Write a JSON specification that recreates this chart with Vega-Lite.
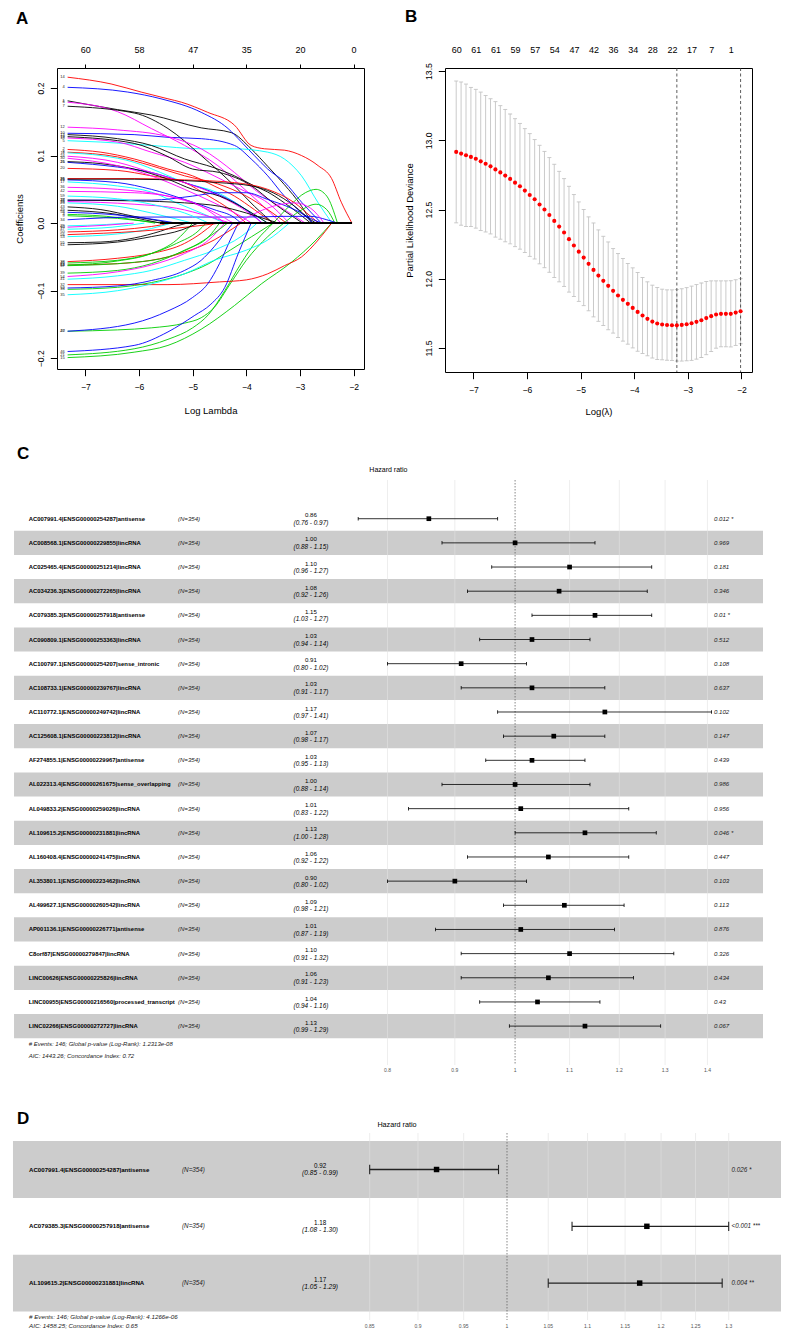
{
"$schema": "https://vega.github.io/schema/vega-lite/v6.json",
"background": "white",
"padding": {"left": 12, "top": 7, "right": 0, "bottom": 0},
"config": {
  "view": {"stroke": null},
  "font": "Liberation Sans",
  "axis": {"labelFont": "Liberation Sans", "titleFont": "Liberation Sans", "labelColor": "black", "titleColor": "black", "tickColor": "black", "titleFontWeight": "normal", "labelFlush": false, "grid": false, "domain": false},
  "title": {"font": "Liberation Sans", "fontSize": 17, "fontWeight": "bold", "anchor": "start", "frame": "bounds", "baseline": "alphabetic", "color": "black"},
  "text": {"font": "Liberation Sans"}
},
"datasets": {
"cv": [
{"x":-7.32,"d":12.916,"u":13.428,"l":12.404},{"x":-7.2285,"d":12.904,"u":13.421,"l":12.387},{"x":-7.137,"d":12.892,"u":13.406,"l":12.378},{"x":-7.0455,"d":12.88,"u":13.382,"l":12.378},{"x":-6.954,"d":12.867,"u":13.368,"l":12.366},{"x":-6.8625,"d":12.848,"u":13.348,"l":12.348},{"x":-6.771,"d":12.831,"u":13.324,"l":12.338},{"x":-6.6795,"d":12.812,"u":13.3,"l":12.324},{"x":-6.588,"d":12.79,"u":13.279,"l":12.301},{"x":-6.4965,"d":12.768,"u":13.25,"l":12.286},
{"x":-6.405,"d":12.745,"u":13.223,"l":12.267},{"x":-6.3135,"d":12.721,"u":13.19,"l":12.252},{"x":-6.222,"d":12.694,"u":13.156,"l":12.232},{"x":-6.1305,"d":12.668,"u":13.122,"l":12.214},{"x":-6.039,"d":12.637,"u":13.084,"l":12.19},{"x":-5.9475,"d":12.605,"u":13.048,"l":12.162},{"x":-5.856,"d":12.574,"u":13.005,"l":12.143},{"x":-5.7645,"d":12.536,"u":12.964,"l":12.108},{"x":-5.673,"d":12.5,"u":12.92,"l":12.08},{"x":-5.5815,"d":12.461,"u":12.875,"l":12.047},
{"x":-5.49,"d":12.418,"u":12.827,"l":12.009},{"x":-5.3985,"d":12.377,"u":12.776,"l":11.978},{"x":-5.307,"d":12.334,"u":12.723,"l":11.945},{"x":-5.2155,"d":12.286,"u":12.668,"l":11.904},{"x":-5.124,"d":12.24,"u":12.608,"l":11.872},{"x":-5.0325,"d":12.196,"u":12.555,"l":11.837},{"x":-4.941,"d":12.153,"u":12.5,"l":11.806},{"x":-4.8495,"d":12.108,"u":12.447,"l":11.769},{"x":-4.758,"d":12.064,"u":12.403,"l":11.725},{"x":-4.6665,"d":12.023,"u":12.353,"l":11.693},
{"x":-4.575,"d":11.985,"u":12.307,"l":11.663},{"x":-4.4835,"d":11.949,"u":12.266,"l":11.632},{"x":-4.392,"d":11.913,"u":12.218,"l":11.608},{"x":-4.3005,"d":11.879,"u":12.182,"l":11.576},{"x":-4.209,"d":11.848,"u":12.146,"l":11.55},{"x":-4.1175,"d":11.819,"u":12.11,"l":11.528},{"x":-4.026,"d":11.79,"u":12.079,"l":11.501},{"x":-3.9345,"d":11.761,"u":12.045,"l":11.477},{"x":-3.843,"d":11.735,"u":12.009,"l":11.461},{"x":-3.7515,"d":11.711,"u":11.978,"l":11.444},
{"x":-3.66,"d":11.691,"u":11.954,"l":11.428},{"x":-3.5685,"d":11.677,"u":11.937,"l":11.417},{"x":-3.477,"d":11.67,"u":11.925,"l":11.415},{"x":-3.3855,"d":11.666,"u":11.92,"l":11.412},{"x":-3.294,"d":11.665,"u":11.92,"l":11.41},{"x":-3.2025,"d":11.664,"u":11.922,"l":11.406},{"x":-3.111,"d":11.667,"u":11.928,"l":11.406},{"x":-3.0195,"d":11.672,"u":11.936,"l":11.408},{"x":-2.928,"d":11.679,"u":11.947,"l":11.411},{"x":-2.8365,"d":11.689,"u":11.958,"l":11.42},
{"x":-2.745,"d":11.701,"u":11.97,"l":11.432},{"x":-2.6535,"d":11.716,"u":11.98,"l":11.452},{"x":-2.562,"d":11.73,"u":11.985,"l":11.475},{"x":-2.4705,"d":11.742,"u":11.985,"l":11.499},{"x":-2.379,"d":11.747,"u":11.985,"l":11.509},{"x":-2.2875,"d":11.747,"u":11.985,"l":11.509},{"x":-2.196,"d":11.747,"u":11.986,"l":11.508},{"x":-2.1045,"d":11.756,"u":11.993,"l":11.519},{"x":-2.013,"d":11.766,"u":12.001,"l":11.531}
],
"fc": [
{"row":0,"name":"AC007991.4|ENSG00000254287|antisense","nlab":"(N=354)","hr":0.86,"lo":0.76,"hi":0.97,"ci":"(0.76 - 0.97)","p":"0.012 *"},
{"row":1,"name":"AC008568.1|ENSG00000229855|lincRNA","nlab":"(N=354)","hr":1.00,"lo":0.88,"hi":1.15,"ci":"(0.88 - 1.15)","p":"0.969"},
{"row":2,"name":"AC025465.4|ENSG00000251214|lincRNA","nlab":"(N=354)","hr":1.10,"lo":0.96,"hi":1.27,"ci":"(0.96 - 1.27)","p":"0.181"},
{"row":3,"name":"AC034236.3|ENSG00000272265|lincRNA","nlab":"(N=354)","hr":1.08,"lo":0.92,"hi":1.26,"ci":"(0.92 - 1.26)","p":"0.346"},
{"row":4,"name":"AC079385.3|ENSG00000257918|antisense","nlab":"(N=354)","hr":1.15,"lo":1.03,"hi":1.27,"ci":"(1.03 - 1.27)","p":"0.01 *"},
{"row":5,"name":"AC090809.1|ENSG00000253363|lincRNA","nlab":"(N=354)","hr":1.03,"lo":0.94,"hi":1.14,"ci":"(0.94 - 1.14)","p":"0.512"},
{"row":6,"name":"AC100797.1|ENSG00000254207|sense_intronic","nlab":"(N=354)","hr":0.91,"lo":0.80,"hi":1.02,"ci":"(0.80 - 1.02)","p":"0.108"},
{"row":7,"name":"AC108733.1|ENSG00000239767|lincRNA","nlab":"(N=354)","hr":1.03,"lo":0.91,"hi":1.17,"ci":"(0.91 - 1.17)","p":"0.637"},
{"row":8,"name":"AC110772.1|ENSG00000249742|lincRNA","nlab":"(N=354)","hr":1.17,"lo":0.97,"hi":1.41,"ci":"(0.97 - 1.41)","p":"0.102"},
{"row":9,"name":"AC125608.1|ENSG00000223812|lincRNA","nlab":"(N=354)","hr":1.07,"lo":0.98,"hi":1.17,"ci":"(0.98 - 1.17)","p":"0.147"},
{"row":10,"name":"AF274855.1|ENSG00000229967|antisense","nlab":"(N=354)","hr":1.03,"lo":0.95,"hi":1.13,"ci":"(0.95 - 1.13)","p":"0.439"},
{"row":11,"name":"AL022313.4|ENSG00000261675|sense_overlapping","nlab":"(N=354)","hr":1.00,"lo":0.88,"hi":1.14,"ci":"(0.88 - 1.14)","p":"0.986"},
{"row":12,"name":"AL049833.2|ENSG00000259026|lincRNA","nlab":"(N=354)","hr":1.01,"lo":0.83,"hi":1.22,"ci":"(0.83 - 1.22)","p":"0.956"},
{"row":13,"name":"AL109615.2|ENSG00000231881|lincRNA","nlab":"(N=354)","hr":1.13,"lo":1.00,"hi":1.28,"ci":"(1.00 - 1.28)","p":"0.046 *"},
{"row":14,"name":"AL160408.4|ENSG00000241475|lincRNA","nlab":"(N=354)","hr":1.06,"lo":0.92,"hi":1.22,"ci":"(0.92 - 1.22)","p":"0.447"},
{"row":15,"name":"AL353801.1|ENSG00000223462|lincRNA","nlab":"(N=354)","hr":0.90,"lo":0.80,"hi":1.02,"ci":"(0.80 - 1.02)","p":"0.103"},
{"row":16,"name":"AL499627.1|ENSG00000260542|lincRNA","nlab":"(N=354)","hr":1.09,"lo":0.98,"hi":1.21,"ci":"(0.98 - 1.21)","p":"0.113"},
{"row":17,"name":"AP001136.1|ENSG00000226771|antisense","nlab":"(N=354)","hr":1.01,"lo":0.87,"hi":1.19,"ci":"(0.87 - 1.19)","p":"0.876"},
{"row":18,"name":"C8orf87|ENSG00000279847|lincRNA","nlab":"(N=354)","hr":1.10,"lo":0.91,"hi":1.32,"ci":"(0.91 - 1.32)","p":"0.326"},
{"row":19,"name":"LINC00626|ENSG00000225826|lincRNA","nlab":"(N=354)","hr":1.06,"lo":0.91,"hi":1.23,"ci":"(0.91 - 1.23)","p":"0.434"},
{"row":20,"name":"LINC00955|ENSG00000216560|processed_transcript","nlab":"(N=354)","hr":1.04,"lo":0.94,"hi":1.16,"ci":"(0.94 - 1.16)","p":"0.43"},
{"row":21,"name":"LINC02266|ENSG00000272727|lincRNA","nlab":"(N=354)","hr":1.13,"lo":0.99,"hi":1.29,"ci":"(0.99 - 1.29)","p":"0.067"}
],
"fd": [
{"row":0,"name":"AC007991.4|ENSG00000254287|antisense","nlab":"(N=354)","hr":0.92,"lo":0.85,"hi":0.99,"ci":"(0.85 - 0.99)","p":"0.026 *"},
{"row":1,"name":"AC079385.3|ENSG00000257918|antisense","nlab":"(N=354)","hr":1.18,"lo":1.08,"hi":1.30,"ci":"(1.08 - 1.30)","p":"<0.001 ***"},
{"row":2,"name":"AL109615.2|ENSG00000231881|lincRNA","nlab":"(N=354)","hr":1.17,"lo":1.05,"hi":1.29,"ci":"(1.05 - 1.29)","p":"0.004 **"}
],
"paths": [
{"v":1,"x":-7.33,"c":0.181},{"v":1,"x":-6.4,"c":0.168},{"v":1,"x":-5.77,"c":0.16},{"v":1,"x":-4.84,"c":0.141},{"v":1,"x":-4.28,"c":0.134},{"v":1,"x":-3.91,"c":0.11},{"v":1,"x":-3.6,"c":0.084},{"v":1,"x":-3.29,"c":0.057},{"v":1,"x":-2.97,"c":0.025},{"v":1,"x":-2.78,"c":0},
{"v":2,"x":-7.33,"c":0.109},{"v":2,"x":-6.71,"c":0.105},{"v":2,"x":-6.09,"c":0.095},{"v":2,"x":-5.46,"c":0.08},{"v":2,"x":-5.0,"c":0.07},{"v":2,"x":-4.6,"c":0.055},{"v":2,"x":-4.22,"c":0.04},{"v":2,"x":-3.85,"c":0.02},{"v":2,"x":-3.5,"c":0},
{"v":3,"x":-7.33,"c":0.013},{"v":3,"x":-6.6,"c":0.01},{"v":3,"x":-6.0,"c":0.004},{"v":3,"x":-5.7,"c":0},
{"v":4,"x":-7.33,"c":0.201},{"v":4,"x":-6.21,"c":0.194},{"v":4,"x":-5.59,"c":0.184},{"v":4,"x":-4.84,"c":0.164},{"v":4,"x":-4.34,"c":0.14},{"v":4,"x":-4.09,"c":0.12},{"v":4,"x":-3.85,"c":0.1},{"v":4,"x":-3.6,"c":0.08},{"v":4,"x":-3.29,"c":0.061},{"v":4,"x":-2.97,"c":0.031},{"v":4,"x":-2.6,"c":0},
{"v":5,"x":-7.33,"c":0.122},{"v":5,"x":-6.71,"c":0.12},{"v":5,"x":-5.77,"c":0.115},{"v":5,"x":-4.84,"c":0.11},{"v":5,"x":-4.22,"c":0.11},{"v":5,"x":-3.6,"c":0.105},{"v":5,"x":-3.29,"c":0.095},{"v":5,"x":-2.97,"c":0.07},{"v":5,"x":-2.66,"c":0.03},{"v":5,"x":-2.4,"c":0},
{"v":6,"x":-7.33,"c":0.179},{"v":6,"x":-6.4,"c":0.165},{"v":6,"x":-5.77,"c":0.14},{"v":6,"x":-5.15,"c":0.115},{"v":6,"x":-4.53,"c":0.085},{"v":6,"x":-4.1,"c":0.055},{"v":6,"x":-3.75,"c":0.03},{"v":6,"x":-3.35,"c":0},
{"v":7,"x":-7.33,"c":0.173},{"v":7,"x":-6.09,"c":0.163},{"v":7,"x":-5.46,"c":0.14},{"v":7,"x":-4.84,"c":0.1},{"v":7,"x":-4.22,"c":0.055},{"v":7,"x":-3.85,"c":0.025},{"v":7,"x":-3.5,"c":0},
{"v":8,"x":-7.33,"c":0.105},{"v":8,"x":-6.4,"c":0.098},{"v":8,"x":-5.77,"c":0.085},{"v":8,"x":-5.15,"c":0.07},{"v":8,"x":-4.53,"c":0.058},{"v":8,"x":-4.0,"c":0.04},{"v":8,"x":-3.6,"c":0.02},{"v":8,"x":-3.25,"c":0},
{"v":9,"x":-7.33,"c":0.011},{"v":9,"x":-6.4,"c":0.007},{"v":9,"x":-5.8,"c":0.002},{"v":9,"x":-5.5,"c":0},
{"v":10,"x":-7.33,"c":0.133},{"v":10,"x":-6.09,"c":0.131},{"v":10,"x":-5.46,"c":0.127},{"v":10,"x":-4.84,"c":0.125},{"v":10,"x":-4.22,"c":0.115},{"v":10,"x":-3.91,"c":0.095},{"v":10,"x":-3.6,"c":0.07},{"v":10,"x":-3.29,"c":0.04},{"v":10,"x":-2.97,"c":0.015},{"v":10,"x":-2.75,"c":0},
{"v":11,"x":-7.33,"c":0.104},{"v":11,"x":-6.71,"c":0.1},{"v":11,"x":-6.09,"c":0.09},{"v":11,"x":-5.6,"c":0.075},{"v":11,"x":-5.15,"c":0.06},{"v":11,"x":-4.53,"c":0.045},{"v":11,"x":-4.0,"c":0.02},{"v":11,"x":-3.6,"c":0},
{"v":12,"x":-7.33,"c":0.142},{"v":12,"x":-6.4,"c":0.138},{"v":12,"x":-5.46,"c":0.128},{"v":12,"x":-4.84,"c":0.11},{"v":12,"x":-4.22,"c":0.075},{"v":12,"x":-3.85,"c":0.05},{"v":12,"x":-3.29,"c":0.02},{"v":12,"x":-2.9,"c":0},
{"v":13,"x":-7.33,"c":0.131},{"v":13,"x":-6.4,"c":0.125},{"v":13,"x":-5.77,"c":0.115},{"v":13,"x":-5.15,"c":0.095},{"v":13,"x":-4.6,"c":0.082},{"v":13,"x":-4.22,"c":0.07},{"v":13,"x":-3.85,"c":0.055},{"v":13,"x":-3.6,"c":0.046},{"v":13,"x":-3.29,"c":0.03},{"v":13,"x":-2.97,"c":0.011},{"v":13,"x":-2.8,"c":0},
{"v":14,"x":-7.33,"c":0.216},{"v":14,"x":-6.52,"c":0.206},{"v":14,"x":-5.96,"c":0.194},{"v":14,"x":-5.46,"c":0.184},{"v":14,"x":-5.21,"c":0.179},{"v":14,"x":-4.72,"c":0.164},{"v":14,"x":-4.22,"c":0.145},{"v":14,"x":-3.91,"c":0.115},{"v":14,"x":-3.66,"c":0.11},{"v":14,"x":-3.29,"c":0.108},{"v":14,"x":-2.97,"c":0.1},{"v":14,"x":-2.66,"c":0.085},{"v":14,"x":-2.41,"c":0.066},{"v":14,"x":-2.23,"c":0.031},{"v":14,"x":-2.03,"c":0},
{"v":15,"x":-7.33,"c":-0.199},{"v":15,"x":-6.09,"c":-0.191},{"v":15,"x":-5.46,"c":-0.181},{"v":15,"x":-4.84,"c":-0.157},{"v":15,"x":-4.22,"c":-0.122},{"v":15,"x":-3.72,"c":-0.09},{"v":15,"x":-3.16,"c":-0.058},{"v":15,"x":-2.7,"c":-0.025},{"v":15,"x":-2.41,"c":0},
{"v":16,"x":-7.33,"c":0.09},{"v":16,"x":-6.4,"c":0.083},{"v":16,"x":-5.77,"c":0.075},{"v":16,"x":-5.15,"c":0.06},{"v":16,"x":-4.6,"c":0.045},{"v":16,"x":-4.1,"c":0.025},{"v":16,"x":-3.7,"c":0},
{"v":17,"x":-7.33,"c":0.061},{"v":17,"x":-6.4,"c":0.055},{"v":17,"x":-5.77,"c":0.046},{"v":17,"x":-5.3,"c":0.03},{"v":17,"x":-4.84,"c":0.015},{"v":17,"x":-4.4,"c":0},
{"v":18,"x":-7.33,"c":0.126},{"v":18,"x":-6.4,"c":0.12},{"v":18,"x":-5.77,"c":0.105},{"v":18,"x":-5.15,"c":0.09},{"v":18,"x":-4.6,"c":0.07},{"v":18,"x":-4.1,"c":0.05},{"v":18,"x":-3.6,"c":0.03},{"v":18,"x":-3.2,"c":0},
{"v":19,"x":-7.33,"c":0.128},{"v":19,"x":-6.09,"c":0.118},{"v":19,"x":-5.5,"c":0.1},{"v":19,"x":-5.0,"c":0.08},{"v":19,"x":-4.5,"c":0.075},{"v":19,"x":-3.9,"c":0.055},{"v":19,"x":-3.5,"c":0.03},{"v":19,"x":-3.1,"c":0.008},{"v":19,"x":-2.95,"c":0},
{"v":20,"x":-7.33,"c":0.081},{"v":20,"x":-6.4,"c":0.078},{"v":20,"x":-5.77,"c":0.07},{"v":20,"x":-5.15,"c":0.06},{"v":20,"x":-4.7,"c":0.04},{"v":20,"x":-4.3,"c":0.02},{"v":20,"x":-4.0,"c":0},
{"v":21,"x":-7.33,"c":-0.195},{"v":21,"x":-6.09,"c":-0.186},{"v":21,"x":-5.46,"c":-0.172},{"v":21,"x":-5.0,"c":-0.155},{"v":21,"x":-4.7,"c":-0.135},{"v":21,"x":-4.4,"c":-0.1},{"v":21,"x":-4.1,"c":-0.06},{"v":21,"x":-3.8,"c":-0.025},{"v":21,"x":-3.5,"c":0},{"v":21,"x":-3.2,"c":0.025},{"v":21,"x":-2.9,"c":0.045},{"v":21,"x":-2.7,"c":0.05},{"v":21,"x":-2.5,"c":0.04},{"v":21,"x":-2.3,"c":0},
{"v":22,"x":-7.33,"c":0.064},{"v":22,"x":-6.4,"c":0.06},{"v":22,"x":-5.77,"c":0.05},{"v":22,"x":-5.15,"c":0.035},{"v":22,"x":-4.6,"c":0.02},{"v":22,"x":-4.22,"c":0.008},{"v":22,"x":-4.1,"c":0},
{"v":23,"x":-7.33,"c":0.03},{"v":23,"x":-6.4,"c":0.025},{"v":23,"x":-5.77,"c":0.015},{"v":23,"x":-5.2,"c":0.004},{"v":23,"x":-5.0,"c":0},
{"v":24,"x":-7.33,"c":0.099},{"v":24,"x":-6.4,"c":0.09},{"v":24,"x":-5.77,"c":0.075},{"v":24,"x":-5.15,"c":0.06},{"v":24,"x":-4.5,"c":0.04},{"v":24,"x":-3.95,"c":0.015},{"v":24,"x":-3.7,"c":0},
{"v":25,"x":-7.33,"c":0.091},{"v":25,"x":-6.71,"c":0.088},{"v":25,"x":-6.09,"c":0.08},{"v":25,"x":-5.46,"c":0.065},{"v":25,"x":-5.0,"c":0.05},{"v":25,"x":-4.5,"c":0.04},{"v":25,"x":-4.0,"c":0.02},{"v":25,"x":-3.6,"c":0},
{"v":26,"x":-7.33,"c":0.066},{"v":26,"x":-6.09,"c":0.066},{"v":26,"x":-5.15,"c":0.064},{"v":26,"x":-4.22,"c":0.06},{"v":26,"x":-3.6,"c":0.05},{"v":26,"x":-3.1,"c":0.03},{"v":26,"x":-2.8,"c":0.01},{"v":26,"x":-2.65,"c":0},
{"v":27,"x":-7.33,"c":-0.16},{"v":27,"x":-6.4,"c":-0.158},{"v":27,"x":-5.77,"c":-0.155},{"v":27,"x":-5.15,"c":-0.148},{"v":27,"x":-4.84,"c":-0.14},{"v":27,"x":-4.6,"c":-0.125},{"v":27,"x":-4.3,"c":-0.09},{"v":27,"x":-4.0,"c":-0.055},{"v":27,"x":-3.6,"c":-0.02},{"v":27,"x":-3.3,"c":0},{"v":27,"x":-3.0,"c":0.018},{"v":27,"x":-2.7,"c":0.028},{"v":27,"x":-2.5,"c":0.02},{"v":27,"x":-2.35,"c":0},
{"v":28,"x":-7.33,"c":0.034},{"v":28,"x":-5.77,"c":0.034},{"v":28,"x":-5.0,"c":0.04},{"v":28,"x":-4.5,"c":0.045},{"v":28,"x":-4.0,"c":0.045},{"v":28,"x":-3.6,"c":0.035},{"v":28,"x":-3.1,"c":0.02},{"v":28,"x":-2.75,"c":0.005},{"v":28,"x":-2.6,"c":0},
{"v":29,"x":-7.33,"c":-0.004},{"v":29,"x":-6.6,"c":-0.002},{"v":29,"x":-6.2,"c":0},
{"v":30,"x":-7.33,"c":0.096},{"v":30,"x":-6.4,"c":0.085},{"v":30,"x":-5.77,"c":0.07},{"v":30,"x":-5.15,"c":0.05},{"v":30,"x":-4.6,"c":0.03},{"v":30,"x":-4.1,"c":0.01},{"v":30,"x":-3.9,"c":0},
{"v":31,"x":-7.33,"c":0.065},{"v":31,"x":-6.09,"c":0.065},{"v":31,"x":-5.15,"c":0.063},{"v":31,"x":-4.53,"c":0.06},{"v":31,"x":-3.9,"c":0.055},{"v":31,"x":-3.5,"c":0.045},{"v":31,"x":-3.1,"c":0.025},{"v":31,"x":-2.8,"c":0.005},{"v":31,"x":-2.7,"c":0},
{"v":32,"x":-7.33,"c":-0.091},{"v":32,"x":-5.46,"c":-0.091},{"v":32,"x":-4.5,"c":-0.087},{"v":32,"x":-4.0,"c":-0.084},{"v":32,"x":-3.6,"c":-0.075},{"v":32,"x":-3.29,"c":-0.063},{"v":32,"x":-2.97,"c":-0.05},{"v":32,"x":-2.66,"c":-0.025},{"v":32,"x":-2.41,"c":0},
{"v":33,"x":-7.33,"c":-0.098},{"v":33,"x":-6.4,"c":-0.095},{"v":33,"x":-5.77,"c":-0.088},{"v":33,"x":-5.15,"c":-0.075},{"v":33,"x":-4.7,"c":-0.06},{"v":33,"x":-4.3,"c":-0.04},{"v":33,"x":-3.9,"c":-0.02},{"v":33,"x":-3.5,"c":0},
{"v":34,"x":-7.33,"c":0.005},{"v":34,"x":-6.0,"c":0.009},{"v":34,"x":-5.0,"c":0.009},{"v":34,"x":-4.0,"c":0.009},{"v":34,"x":-3.3,"c":0.01},{"v":34,"x":-2.8,"c":0.01},{"v":34,"x":-2.5,"c":0.005},{"v":34,"x":-2.3,"c":0},
{"v":35,"x":-7.33,"c":-0.106},{"v":35,"x":-6.4,"c":-0.1},{"v":35,"x":-5.77,"c":-0.09},{"v":35,"x":-5.15,"c":-0.075},{"v":35,"x":-4.6,"c":-0.055},{"v":35,"x":-4.0,"c":-0.04},{"v":35,"x":-3.6,"c":-0.025},{"v":35,"x":-3.2,"c":0},
{"v":36,"x":-7.33,"c":0.053},{"v":36,"x":-6.4,"c":0.05},{"v":36,"x":-5.46,"c":0.04},{"v":36,"x":-4.84,"c":0.025},{"v":36,"x":-4.45,"c":0.01},{"v":36,"x":-4.2,"c":0},{"v":36,"x":-3.9,"c":0.012},{"v":36,"x":-3.5,"c":0.025},{"v":36,"x":-3.1,"c":0.03},{"v":36,"x":-2.8,"c":0.022},{"v":36,"x":-2.55,"c":0},
{"v":37,"x":-7.33,"c":0.034},{"v":37,"x":-6.09,"c":0.033},{"v":37,"x":-5.15,"c":0.03},{"v":37,"x":-4.5,"c":0.025},{"v":37,"x":-4.0,"c":0.015},{"v":37,"x":-3.6,"c":0.005},{"v":37,"x":-3.4,"c":0},
{"v":38,"x":-7.33,"c":-0.057},{"v":38,"x":-6.4,"c":-0.052},{"v":38,"x":-5.77,"c":-0.045},{"v":38,"x":-5.15,"c":-0.03},{"v":38,"x":-4.84,"c":-0.015},{"v":38,"x":-4.6,"c":0},
{"v":39,"x":-7.33,"c":-0.074},{"v":39,"x":-6.4,"c":-0.07},{"v":39,"x":-5.77,"c":-0.06},{"v":39,"x":-5.15,"c":-0.04},{"v":39,"x":-4.7,"c":-0.02},{"v":39,"x":-4.5,"c":0},
{"v":40,"x":-7.33,"c":-0.16},{"v":40,"x":-6.09,"c":-0.148},{"v":40,"x":-5.46,"c":-0.13},{"v":40,"x":-5.0,"c":-0.11},{"v":40,"x":-4.72,"c":-0.09},{"v":40,"x":-4.5,"c":-0.06},{"v":40,"x":-4.3,"c":-0.025},{"v":40,"x":-4.15,"c":0},
{"v":41,"x":-7.33,"c":-0.083},{"v":41,"x":-6.4,"c":-0.078},{"v":41,"x":-5.77,"c":-0.07},{"v":41,"x":-5.15,"c":-0.055},{"v":41,"x":-4.6,"c":-0.04},{"v":41,"x":-4.1,"c":-0.02},{"v":41,"x":-3.8,"c":0},
{"v":42,"x":-7.33,"c":0.047},{"v":42,"x":-6.09,"c":0.045},{"v":42,"x":-5.46,"c":0.04},{"v":42,"x":-4.84,"c":0.025},{"v":42,"x":-4.4,"c":0},
{"v":43,"x":-7.33,"c":0.024},{"v":43,"x":-6.71,"c":0.02},{"v":43,"x":-6.09,"c":0.01},{"v":43,"x":-5.6,"c":0.003},{"v":43,"x":-5.4,"c":0},
{"v":44,"x":-7.33,"c":-0.062},{"v":44,"x":-6.4,"c":-0.06},{"v":44,"x":-5.77,"c":-0.055},{"v":44,"x":-5.15,"c":-0.043},{"v":44,"x":-4.6,"c":-0.025},{"v":44,"x":-4.25,"c":-0.008},{"v":44,"x":-4.1,"c":0},
{"v":45,"x":-7.33,"c":-0.059},{"v":45,"x":-6.4,"c":-0.055},{"v":45,"x":-5.77,"c":-0.045},{"v":45,"x":-5.3,"c":-0.03},{"v":45,"x":-4.9,"c":-0.012},{"v":45,"x":-4.75,"c":0},
{"v":46,"x":-7.33,"c":-0.19},{"v":46,"x":-6.09,"c":-0.181},{"v":46,"x":-5.46,"c":-0.161},{"v":46,"x":-4.97,"c":-0.137},{"v":46,"x":-4.66,"c":-0.12},{"v":46,"x":-4.4,"c":-0.095},{"v":46,"x":-4.15,"c":-0.045},{"v":46,"x":-3.91,"c":0},
{"v":47,"x":-7.33,"c":-0.009},{"v":47,"x":-6.5,"c":-0.006},{"v":47,"x":-5.9,"c":0},
{"v":48,"x":-7.33,"c":0.032},{"v":48,"x":-6.09,"c":0.028},{"v":48,"x":-5.3,"c":0.022},{"v":48,"x":-4.7,"c":0.01},{"v":48,"x":-4.3,"c":0},
{"v":49,"x":-7.33,"c":0.019},{"v":49,"x":-6.5,"c":0.014},{"v":49,"x":-5.9,"c":0.005},{"v":49,"x":-5.6,"c":0},
{"v":50,"x":-7.33,"c":-0.013},{"v":50,"x":-6.4,"c":-0.01},{"v":50,"x":-5.77,"c":-0.005},{"v":50,"x":-5.4,"c":0},
{"v":51,"x":-7.33,"c":-0.062},{"v":51,"x":-6.4,"c":-0.056},{"v":51,"x":-5.77,"c":-0.045},{"v":51,"x":-5.3,"c":-0.025},{"v":51,"x":-5.0,"c":0},
{"v":52,"x":-7.33,"c":-0.096},{"v":52,"x":-6.4,"c":-0.093},{"v":52,"x":-5.77,"c":-0.085},{"v":52,"x":-5.15,"c":-0.07},{"v":52,"x":-4.84,"c":-0.055},{"v":52,"x":-4.6,"c":-0.035},{"v":52,"x":-4.4,"c":-0.015},{"v":52,"x":-4.25,"c":0},
{"v":53,"x":-7.33,"c":-0.02},{"v":53,"x":-6.4,"c":-0.016},{"v":53,"x":-5.77,"c":-0.008},{"v":53,"x":-5.4,"c":0},
{"v":54,"x":-7.33,"c":-0.079},{"v":54,"x":-6.4,"c":-0.072},{"v":54,"x":-5.77,"c":-0.062},{"v":54,"x":-5.15,"c":-0.045},{"v":54,"x":-4.7,"c":-0.025},{"v":54,"x":-4.4,"c":0},
{"v":55,"x":-7.33,"c":-0.029},{"v":55,"x":-6.71,"c":-0.028},{"v":55,"x":-6.09,"c":-0.022},{"v":55,"x":-5.6,"c":-0.012},{"v":55,"x":-5.3,"c":-0.004},{"v":55,"x":-5.1,"c":0},
{"v":56,"x":-7.33,"c":-0.017},{"v":56,"x":-6.0,"c":-0.012},{"v":56,"x":-5.0,"c":-0.005},{"v":56,"x":-4.5,"c":0},
{"v":57,"x":-7.33,"c":-0.063},{"v":57,"x":-6.09,"c":-0.058},{"v":57,"x":-5.46,"c":-0.05},{"v":57,"x":-5.0,"c":-0.035},{"v":57,"x":-4.6,"c":-0.015},{"v":57,"x":-4.35,"c":0},
{"v":58,"x":-7.33,"c":0.016},{"v":58,"x":-6.4,"c":0.012},{"v":58,"x":-5.77,"c":0.006},{"v":58,"x":-5.3,"c":0},
{"v":59,"x":-7.33,"c":0.04},{"v":59,"x":-6.4,"c":0.036},{"v":59,"x":-5.77,"c":0.028},{"v":59,"x":-5.15,"c":0.015},{"v":59,"x":-4.7,"c":0},
{"v":60,"x":-7.33,"c":-0.006},{"v":60,"x":-6.6,"c":-0.003},{"v":60,"x":-6.1,"c":0},
{"v":61,"x":-7.33,"c":-0.032},{"v":61,"x":-6.4,"c":-0.028},{"v":61,"x":-5.77,"c":-0.02},{"v":61,"x":-5.2,"c":-0.01},{"v":61,"x":-4.9,"c":0}
]
},
"spacing": 27,
"vconcat": [
{
 "spacing": 38,
 "hconcat": [
  {
   "title": {"text": "A", "offset": 17, "dx": 2},
   "width": 307, "height": 301,
   "view": {"stroke": "black", "strokeWidth": 1},
   "data": {"name": "paths"},
   "resolve": {"axis": {"x": "independent"}},
   "layer": [
    {"mark": {"type": "line", "interpolate": "monotone", "strokeWidth": 0.9},
     "encoding": {
      "x": {"field": "x", "type": "quantitative", "scale": {"domain": [-7.528, -1.806], "nice": false, "zero": false},
            "axis": {"orient": "bottom", "values": [-7,-6,-5,-4,-3,-2], "format": "d", "title": "Log Lambda", "tickSize": 6.7, "labelPadding": 7, "labelFontSize": 8.6, "titleFontSize": 9.5, "titlePadding": 14}},
      "y": {"field": "c", "type": "quantitative", "scale": {"domain": [-0.2159, 0.2296], "nice": false, "zero": false},
            "axis": {"values": [-0.2,-0.1,0,0.1,0.2], "format": ".1f", "title": "Coefficients", "tickSize": 6.7, "labelAngle": -90, "labelAlign": "center", "labelBaseline": "bottom", "labelPadding": 4.4, "labelFontSize": 8.6, "titleFontSize": 9.5, "titlePadding": 12.8}},
      "color": {"field": "v", "type": "nominal", "scale": {"domain": [1,2,3,4,5,6,7,8,9,10,11,12,13,14,15,16,17,18,19,20,21,22,23,24,25,26,27,28,29,30,31,32,33,34,35,36,37,38,39,40,41,42,43,44,45,46,47,48,49,50,51,52,53,54,55,56,57,58,59,60,61], "range": ["#000000","#FF0000","#00CD00","#0000FF","#00FFFF","#FF00FF"]}, "legend": null}
     }},
    {"transform": [{"filter": "datum.x == -7.33"}],
     "mark": {"type": "text", "align": "right", "baseline": "middle", "dx": -3, "fontSize": 4, "font": "Liberation Sans", "color": "#222222"},
     "encoding": {
      "x": {"field": "x", "type": "quantitative", "axis": {"orient": "top", "values": [-7,-6,-5,-4,-3,-2], "labelExpr": "['60','58','47','35','20','0'][datum.value + 7]", "title": null, "tickSize": 4, "labelPadding": 10, "labelFontSize": 9}},
      "y": {"field": "c", "type": "quantitative"},
      "text": {"field": "v", "type": "nominal"}
     }},
    {"mark": {"type": "rule", "color": "black", "strokeWidth": 0.9},
     "encoding": {"x": {"datum": -5.6, "type": "quantitative", "axis": null}, "x2": {"datum": -2.03}, "y": {"datum": 0, "type": "quantitative"}}}
   ]
  },
  {
   "title": {"text": "B", "offset": 19.2, "dx": 1},
   "width": 307, "height": 304,
   "view": {"stroke": "black", "strokeWidth": 1},
   "data": {"name": "cv"},
   "resolve": {"axis": {"x": "independent"}},
   "layer": [
    {"mark": {"type": "rule", "color": "#c4c4c4", "strokeWidth": 0.9},
     "encoding": {
      "x": {"field": "x", "type": "quantitative", "scale": {"domain": [-7.529, -1.8], "nice": false, "zero": false},
            "axis": {"orient": "bottom", "values": [-7,-6,-5,-4,-3,-2], "format": "d", "title": "Log(λ)", "tickSize": 6.7, "labelPadding": 7, "labelFontSize": 8.6, "titleFontSize": 9.5, "titlePadding": 12.5}},
      "y": {"field": "l", "type": "quantitative", "scale": {"domain": [11.327, 13.522], "nice": false, "zero": false},
            "axis": {"values": [11.5, 12, 12.5, 13, 13.5], "format": ".1f", "title": "Partial Likelihood Deviance", "tickSize": 6.7, "labelAngle": -90, "labelAlign": "center", "labelBaseline": "bottom", "labelPadding": 4.4, "labelFontSize": 8.6, "titleFontSize": 9.5, "titlePadding": 10.9}},
      "y2": {"field": "u"}
     }},
    {"mark": {"type": "tick", "orient": "horizontal", "color": "#c4c4c4", "size": 4, "thickness": 0.9, "opacity": 1},
     "encoding": {
      "x": {"field": "x", "type": "quantitative", "axis": {"orient": "top", "values": [-7.32,-6.954,-6.588,-6.222,-5.856,-5.49,-5.124,-4.758,-4.392,-4.026,-3.66,-3.294,-2.928,-2.562,-2.196], "labelExpr": "['60','61','61','59','57','54','47','42','36','34','28','22','17','7','1'][indexof([-7.32,-6.954,-6.588,-6.222,-5.856,-5.49,-5.124,-4.758,-4.392,-4.026,-3.66,-3.294,-2.928,-2.562,-2.196], datum.value)]", "title": null, "ticks": false, "tickSize": 0, "labelPadding": 13.5, "labelFontSize": 9}},
      "y": {"field": "u", "type": "quantitative"}
     }},
    {"mark": {"type": "tick", "orient": "horizontal", "color": "#c4c4c4", "size": 4, "thickness": 0.9, "opacity": 1},
     "encoding": {
      "x": {"field": "x", "type": "quantitative", "axis": null},
      "y": {"field": "l", "type": "quantitative"}
     }},
    {"data": {"values": [{"lam": -3.2025}, {"lam": -2.013}]},
     "mark": {"type": "rule", "color": "#333333", "strokeWidth": 0.8, "strokeDash": [3, 2.5]},
     "encoding": {"x": {"field": "lam", "type": "quantitative", "axis": null}}},
    {"mark": {"type": "circle", "color": "#FF0000", "size": 17, "opacity": 1},
     "encoding": {
      "x": {"field": "x", "type": "quantitative", "axis": null},
      "y": {"field": "d", "type": "quantitative"}
     }}
   ]
  }
 ]
},
{
 "spacing": 35,
 "vconcat": [
  {
   "title": {"text": "C", "offset": 3, "dx": 3},
   "width": 706, "height": 585,
   "data": {"name": "fc"},
   "layer": [
    {"transform": [{"filter": "datum.row % 2 == 1"}],
     "mark": {"type": "bar", "orient": "horizontal", "size": 24.2, "color": "#cccccc", "opacity": 1},
     "encoding": {"x": {"datum": 0.4163, "type": "quantitative", "scale": {"type": "log", "domain": [0.4488, 1.5428], "nice": false, "zero": false, "padding": 0}, "axis": null},
                  "x2": {"datum": 1.5428},
                  "y": {"field": "row", "type": "quantitative", "scale": {"domain": [-1.602, 22.61], "reverse": true, "nice": false, "zero": false, "padding": 0}, "axis": null}}},
    {"data": {"values": [{"g": 0.8}, {"g": 0.9}, {"g": 1.1}, {"g": 1.2}, {"g": 1.3}, {"g": 1.4}]},
     "mark": {"type": "rule", "color": "#e3e3e3", "strokeWidth": 0.6},
     "encoding": {"x": {"field": "g", "type": "quantitative", "axis": null}}},
    {"data": {"values": [{"g": 1}]},
     "mark": {"type": "rule", "color": "#555555", "strokeWidth": 0.7, "strokeDash": [1.5, 1.5]},
     "encoding": {"x": {"field": "g", "type": "quantitative", "axis": null}}},
    {"data": {"values": [{"g": 0.8}, {"g": 0.9}, {"g": 1}, {"g": 1.1}, {"g": 1.2}, {"g": 1.3}, {"g": 1.4}]},
     "mark": {"type": "text", "align": "center", "baseline": "middle", "fontSize": 5, "color": "#555555"},
     "encoding": {"x": {"field": "g", "type": "quantitative", "axis": null}, "y": {"datum": 22.82, "type": "quantitative", "axis": null}, "text": {"field": "g", "type": "quantitative", "format": "~g"}}},
    {"mark": {"type": "rule", "color": "black", "strokeWidth": 0.8},
     "encoding": {"x": {"field": "lo", "type": "quantitative", "axis": null}, "x2": {"field": "hi"}, "y": {"field": "row", "type": "quantitative", "axis": null}}},
    {"mark": {"type": "tick", "orient": "vertical", "size": 3.5, "thickness": 0.8, "color": "black", "opacity": 1},
     "encoding": {"x": {"field": "lo", "type": "quantitative", "axis": null}, "y": {"field": "row", "type": "quantitative", "axis": null}}},
    {"mark": {"type": "tick", "orient": "vertical", "size": 3.5, "thickness": 0.8, "color": "black", "opacity": 1},
     "encoding": {"x": {"field": "hi", "type": "quantitative", "axis": null}, "y": {"field": "row", "type": "quantitative", "axis": null}}},
    {"mark": {"type": "point", "shape": "square", "filled": true, "size": 22, "color": "black", "opacity": 1},
     "encoding": {"x": {"field": "hr", "type": "quantitative", "axis": null}, "y": {"field": "row", "type": "quantitative", "axis": null}}},
    {"data": {"values": [{"t": "Hazard ratio"}]},
     "mark": {"type": "text", "align": "center", "baseline": "middle", "fontSize": 7, "color": "black"},
     "encoding": {"x": {"datum": 0.8013, "type": "quantitative", "axis": null}, "y": {"datum": -2.02, "type": "quantitative", "axis": null}, "text": {"field": "t"}}},
    {"mark": {"type": "text", "align": "left", "baseline": "middle", "fontSize": 5.9, "fontWeight": "bold", "color": "black"},
     "encoding": {"x": {"datum": 0.4271, "type": "quantitative", "axis": null}, "y": {"field": "row", "type": "quantitative", "axis": null}, "text": {"field": "name"}}},
    {"mark": {"type": "text", "align": "left", "baseline": "middle", "fontSize": 6.1, "fontStyle": "italic", "color": "#222222"},
     "encoding": {"x": {"datum": 0.5545, "type": "quantitative", "axis": null}, "y": {"field": "row", "type": "quantitative", "axis": null}, "text": {"field": "nlab"}}},
    {"mark": {"type": "text", "align": "center", "baseline": "middle", "fontSize": 6.1, "dy": -3.4, "color": "black"},
     "encoding": {"x": {"datum": 0.6997, "type": "quantitative", "axis": null}, "y": {"field": "row", "type": "quantitative", "axis": null}, "text": {"field": "hr", "format": ".2f"}}},
    {"mark": {"type": "text", "align": "center", "baseline": "middle", "fontSize": 6.4, "fontStyle": "italic", "dy": 4.1, "color": "black"},
     "encoding": {"x": {"datum": 0.6997, "type": "quantitative", "axis": null}, "y": {"field": "row", "type": "quantitative", "axis": null}, "text": {"field": "ci"}}},
    {"mark": {"type": "text", "align": "left", "baseline": "middle", "fontSize": 6.1, "fontStyle": "italic", "color": "#222222"},
     "encoding": {"x": {"datum": 1.4161, "type": "quantitative", "axis": null}, "y": {"field": "row", "type": "quantitative", "axis": null}, "text": {"field": "p"}}},
    {"data": {"values": [{"t": "# Events: 146; Global p-value (Log-Rank): 1.2313e-08"}]},
     "mark": {"type": "text", "align": "left", "baseline": "middle", "fontSize": 6, "fontStyle": "italic", "color": "#222222"},
     "encoding": {"x": {"datum": 0.4271, "type": "quantitative", "axis": null}, "y": {"datum": 21.76, "type": "quantitative", "axis": null}, "text": {"field": "t"}}},
    {"data": {"values": [{"t": "AIC: 1443.26; Concordance Index: 0.72"}]},
     "mark": {"type": "text", "align": "left", "baseline": "middle", "fontSize": 6, "fontStyle": "italic", "color": "#222222"},
     "encoding": {"x": {"datum": 0.4271, "type": "quantitative", "axis": null}, "y": {"datum": 22.24, "type": "quantitative", "axis": null}, "text": {"field": "t"}}}
   ]
  },
  {
   "title": {"text": "D", "offset": -6.7, "dx": 4},
   "width": 724, "height": 187,
   "data": {"name": "fd"},
   "layer": [
    {"transform": [{"filter": "datum.row % 2 == 0"}],
     "mark": {"type": "bar", "orient": "horizontal", "size": 56.8, "color": "#cccccc", "opacity": 1},
     "encoding": {"x": {"datum": 0.5573, "type": "quantitative", "scale": {"type": "log", "domain": [0.5871, 1.383], "nice": false, "zero": false, "padding": 0}, "axis": null},
                  "x2": {"datum": 1.383},
                  "y": {"field": "row", "type": "quantitative", "scale": {"domain": [-0.6426, 2.6496], "reverse": true, "nice": false, "zero": false, "padding": 0}, "axis": null}}},
    {"data": {"values": [{"g": 0.85}, {"g": 0.9}, {"g": 0.95}, {"g": 1.05}, {"g": 1.1}, {"g": 1.15}, {"g": 1.2}, {"g": 1.25}, {"g": 1.3}]},
     "mark": {"type": "rule", "color": "#e0e0e0", "strokeWidth": 0.6},
     "encoding": {"x": {"field": "g", "type": "quantitative", "axis": null}}},
    {"data": {"values": [{"g": 1}]},
     "mark": {"type": "rule", "color": "#555555", "strokeWidth": 0.7, "strokeDash": [1.5, 1.5]},
     "encoding": {"x": {"field": "g", "type": "quantitative", "axis": null}}},
    {"data": {"values": [{"g": 0.85}, {"g": 0.9}, {"g": 0.95}, {"g": 1}, {"g": 1.05}, {"g": 1.1}, {"g": 1.15}, {"g": 1.2}, {"g": 1.25}, {"g": 1.3}]},
     "mark": {"type": "text", "align": "center", "baseline": "middle", "fontSize": 5, "color": "#555555"},
     "encoding": {"x": {"field": "g", "type": "quantitative", "axis": null}, "y": {"datum": 2.75, "type": "quantitative", "axis": null}, "text": {"field": "g", "type": "quantitative", "format": "~g"}}},
    {"mark": {"type": "rule", "color": "#222222", "strokeWidth": 1.3},
     "encoding": {"x": {"field": "lo", "type": "quantitative", "axis": null}, "x2": {"field": "hi"}, "y": {"field": "row", "type": "quantitative", "axis": null}}},
    {"mark": {"type": "tick", "orient": "vertical", "size": 9.3, "thickness": 1.1, "color": "#222222", "opacity": 1},
     "encoding": {"x": {"field": "lo", "type": "quantitative", "axis": null}, "y": {"field": "row", "type": "quantitative", "axis": null}}},
    {"mark": {"type": "tick", "orient": "vertical", "size": 9.3, "thickness": 1.1, "color": "#222222", "opacity": 1},
     "encoding": {"x": {"field": "hi", "type": "quantitative", "axis": null}, "y": {"field": "row", "type": "quantitative", "axis": null}}},
    {"mark": {"type": "point", "shape": "square", "filled": true, "size": 30, "color": "black", "opacity": 1},
     "encoding": {"x": {"field": "hr", "type": "quantitative", "axis": null}, "y": {"field": "row", "type": "quantitative", "axis": null}}},
    {"data": {"values": [{"t": "Hazard ratio"}]},
     "mark": {"type": "text", "align": "center", "baseline": "middle", "fontSize": 7.2, "color": "black"},
     "encoding": {"x": {"datum": 0.8779, "type": "quantitative", "axis": null}, "y": {"datum": -0.783, "type": "quantitative", "axis": null}, "text": {"field": "t"}}},
    {"mark": {"type": "text", "align": "left", "baseline": "middle", "fontSize": 6.1, "fontWeight": "bold", "color": "black"},
     "encoding": {"x": {"datum": 0.568, "type": "quantitative", "axis": null}, "y": {"field": "row", "type": "quantitative", "axis": null}, "text": {"field": "name"}}},
    {"mark": {"type": "text", "align": "left", "baseline": "middle", "fontSize": 6.3, "fontStyle": "italic", "color": "#222222"},
     "encoding": {"x": {"datum": 0.6807, "type": "quantitative", "axis": null}, "y": {"field": "row", "type": "quantitative", "axis": null}, "text": {"field": "nlab"}}},
    {"mark": {"type": "text", "align": "center", "baseline": "middle", "fontSize": 6.3, "dy": -3.4, "color": "black"},
     "encoding": {"x": {"datum": 0.8015, "type": "quantitative", "axis": null}, "y": {"field": "row", "type": "quantitative", "axis": null}, "text": {"field": "hr", "format": ".2f"}}},
    {"mark": {"type": "text", "align": "center", "baseline": "middle", "fontSize": 6.6, "fontStyle": "italic", "dy": 3.4, "color": "black"},
     "encoding": {"x": {"datum": 0.8015, "type": "quantitative", "axis": null}, "y": {"field": "row", "type": "quantitative", "axis": null}, "text": {"field": "ci"}}},
    {"mark": {"type": "text", "align": "left", "baseline": "middle", "fontSize": 6.3, "fontStyle": "italic", "color": "#222222"},
     "encoding": {"x": {"datum": 1.3043, "type": "quantitative", "axis": null}, "y": {"field": "row", "type": "quantitative", "axis": null}, "text": {"field": "p"}}},
    {"data": {"values": [{"t": "# Events: 146; Global p-value (Log-Rank): 4.1266e-06"}]},
     "mark": {"type": "text", "align": "left", "baseline": "middle", "fontSize": 6.2, "fontStyle": "italic", "color": "#222222"},
     "encoding": {"x": {"datum": 0.568, "type": "quantitative", "axis": null}, "y": {"datum": 2.592, "type": "quantitative", "axis": null}, "text": {"field": "t"}}},
    {"data": {"values": [{"t": "AIC: 1458.25; Concordance Index: 0.65"}]},
     "mark": {"type": "text", "align": "left", "baseline": "middle", "fontSize": 6.2, "fontStyle": "italic", "color": "#222222"},
     "encoding": {"x": {"datum": 0.568, "type": "quantitative", "axis": null}, "y": {"datum": 2.75, "type": "quantitative", "axis": null}, "text": {"field": "t"}}}
   ]
  }
 ]
}
]
}
